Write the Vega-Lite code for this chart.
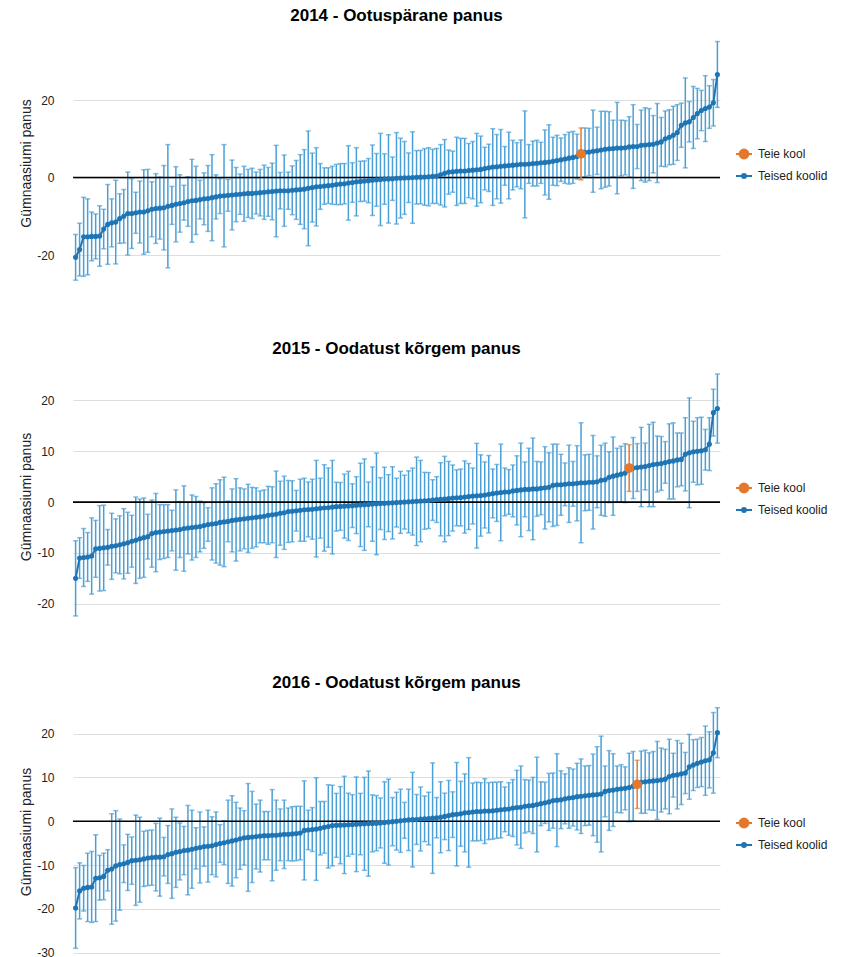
{
  "$schema": "https://vega.github.io/schema/vega-lite/v6.json",
  "background": "white",
  "padding": {"left": 19, "top": 7, "right": 5, "bottom": 0},
  "config": {
    "font": "Liberation Sans",
    "view": {"stroke": null},
    "axis": {"ticks": false, "tickSize": 0, "domain": false, "labelPadding": 19, "labelFontSize": 12, "labelColor": "#222", "labelOverlap": false, "titleFontSize": 14, "titleFontWeight": "normal", "titleColor": "#222", "titlePadding": 3, "gridWidth": 1},
    "title": {"fontSize": 17, "fontWeight": "bold", "color": "#000", "offset": 15, "anchor": "middle", "frame": "group"},
    "legend": {"orient": "none", "legendX": 662, "legendY": 105, "padding": 0, "rowPadding": 4, "symbolSize": 256, "symbolStrokeWidth": 2, "symbolType": "M-1,0H1M-0.45,0A0.45,0.45,0,1,1,0.45,0A0.45,0.45,0,1,1,-0.45,0Z", "labelFontSize": 12, "labelColor": "#222", "labelOffset": 5, "labelFont": "Liberation Sans"}
  },
  "datasets": {
    "d14": [
      {"i":0,"v":-20.6,"e":5.9},{"i":1,"v":-18.6,"e":6.8},{"i":2,"v":-15.3,"e":10.2},{"i":3,"v":-15.3,"e":9.8},{"i":4,"v":-15.2,"e":6.3},
      {"i":5,"v":-15.2,"e":5.8},{"i":6,"v":-15.1,"e":7.8},{"i":7,"v":-13.3,"e":5.1},{"i":8,"v":-12.1,"e":10.3},{"i":9,"v":-11.7,"e":6.2},
      {"i":10,"v":-11.5,"e":10.8},{"i":11,"v":-10.6,"e":6.4},{"i":12,"v":-10.0,"e":6.9},{"i":13,"v":-9.3,"e":10.7},{"i":14,"v":-9.3,"e":9.0},
      {"i":15,"v":-9.1,"e":5.3},{"i":16,"v":-8.9,"e":8.0},{"i":17,"v":-8.9,"e":10.9},{"i":18,"v":-8.6,"e":10.7},{"i":19,"v":-8.2,"e":7.1},
      {"i":20,"v":-8.0,"e":9.0},{"i":21,"v":-7.9,"e":8.0},{"i":22,"v":-7.8,"e":10.9},{"i":23,"v":-7.4,"e":15.9},{"i":24,"v":-7.2,"e":4.9},
      {"i":25,"v":-6.9,"e":9.7},{"i":26,"v":-6.7,"e":7.4},{"i":27,"v":-6.5,"e":4.5},{"i":28,"v":-6.2,"e":6.4},{"i":29,"v":-6.0,"e":10.7},
      {"i":30,"v":-5.9,"e":8.8},{"i":31,"v":-5.7,"e":5.0},{"i":32,"v":-5.5,"e":6.7},{"i":33,"v":-5.4,"e":8.5},{"i":34,"v":-5.2,"e":11.1},
      {"i":35,"v":-5.0,"e":5.7},{"i":36,"v":-4.8,"e":4.5},{"i":37,"v":-4.7,"e":13.2},{"i":38,"v":-4.6,"e":4.1},{"i":39,"v":-4.5,"e":9.0},
      {"i":40,"v":-4.4,"e":7.0},{"i":41,"v":-4.3,"e":5.2},{"i":42,"v":-4.2,"e":7.1},{"i":43,"v":-4.1,"e":6.2},{"i":44,"v":-4.1,"e":6.5},
      {"i":45,"v":-4.0,"e":5.4},{"i":46,"v":-3.9,"e":6.0},{"i":47,"v":-3.8,"e":7.0},{"i":48,"v":-3.7,"e":6.3},{"i":49,"v":-3.6,"e":7.3},
      {"i":50,"v":-3.5,"e":11.8},{"i":51,"v":-3.4,"e":4.7},{"i":52,"v":-3.4,"e":9.2},{"i":53,"v":-3.4,"e":4.8},{"i":54,"v":-3.3,"e":6.3},
      {"i":55,"v":-3.2,"e":7.6},{"i":56,"v":-3.1,"e":9.0},{"i":57,"v":-3.0,"e":10.2},{"i":58,"v":-2.8,"e":14.8},{"i":59,"v":-2.6,"e":8.9},
      {"i":60,"v":-2.4,"e":10.1},{"i":61,"v":-2.3,"e":5.9},{"i":62,"v":-2.2,"e":4.7},{"i":63,"v":-2.1,"e":4.6},{"i":64,"v":-2.0,"e":4.9},
      {"i":65,"v":-1.8,"e":5.2},{"i":66,"v":-1.7,"e":5.3},{"i":67,"v":-1.6,"e":5.2},{"i":68,"v":-1.4,"e":9.6},{"i":69,"v":-1.3,"e":5.1},
      {"i":70,"v":-1.1,"e":8.8},{"i":71,"v":-1.0,"e":5.2},{"i":72,"v":-0.9,"e":5.2},{"i":73,"v":-0.8,"e":5.7},{"i":74,"v":-0.7,"e":9.1},
      {"i":75,"v":-0.6,"e":6.8},{"i":76,"v":-0.5,"e":11.9},{"i":77,"v":-0.4,"e":6.5},{"i":78,"v":-0.35,"e":11.4},{"i":79,"v":-0.3,"e":5.6},
      {"i":80,"v":-0.2,"e":11.8},{"i":81,"v":-0.15,"e":10.3},{"i":82,"v":-0.1,"e":9.4},{"i":83,"v":-0.05,"e":6.4},{"i":84,"v":0.0,"e":11.8},
      {"i":85,"v":0.05,"e":6.9},{"i":86,"v":0.1,"e":6.9},{"i":87,"v":0.15,"e":7.3},{"i":88,"v":0.2,"e":7.5},{"i":89,"v":0.3,"e":7.0},
      {"i":90,"v":0.4,"e":7.1},{"i":91,"v":0.7,"e":7.8},{"i":92,"v":1.1,"e":8.7},{"i":93,"v":1.4,"e":5.7},{"i":94,"v":1.5,"e":5.3},
      {"i":95,"v":1.6,"e":8.8},{"i":96,"v":1.7,"e":8.4},{"i":97,"v":1.7,"e":8.4},{"i":98,"v":1.8,"e":7.0},{"i":99,"v":1.9,"e":7.4},
      {"i":100,"v":2.0,"e":9.4},{"i":101,"v":2.1,"e":8.6},{"i":102,"v":2.3,"e":5.5},{"i":103,"v":2.5,"e":6.1},{"i":104,"v":2.7,"e":9.9},
      {"i":105,"v":2.8,"e":8.3},{"i":106,"v":2.9,"e":9.5},{"i":107,"v":3.0,"e":5.0},{"i":108,"v":3.1,"e":8.6},{"i":109,"v":3.2,"e":6.4},
      {"i":110,"v":3.3,"e":5.7},{"i":111,"v":3.4,"e":6.3},{"i":112,"v":3.4,"e":13.8},{"i":113,"v":3.5,"e":5.0},{"i":114,"v":3.6,"e":5.8},
      {"i":115,"v":3.7,"e":5.9},{"i":116,"v":3.8,"e":5.3},{"i":117,"v":3.9,"e":8.4},{"i":118,"v":4.0,"e":9.6},{"i":119,"v":4.2,"e":6.2},
      {"i":120,"v":4.4,"e":6.5},{"i":121,"v":4.6,"e":5.6},{"i":122,"v":4.8,"e":6.3},{"i":123,"v":5.0,"e":6.7},{"i":124,"v":5.2,"e":6.7},
      {"i":125,"v":5.4,"e":5.8},{"i":127,"v":6.5,"e":6.3},{"i":128,"v":6.6,"e":6.1},{"i":129,"v":6.8,"e":10.6},
      {"i":130,"v":6.9,"e":6.1},{"i":131,"v":7.1,"e":10.0},{"i":132,"v":7.3,"e":9.8},{"i":133,"v":7.4,"e":9.6},{"i":134,"v":7.5,"e":7.3},
      {"i":135,"v":7.6,"e":11.8},{"i":136,"v":7.6,"e":7.2},{"i":137,"v":7.7,"e":7.0},{"i":138,"v":7.9,"e":7.8},{"i":139,"v":8.0,"e":10.8},
      {"i":140,"v":8.0,"e":5.7},{"i":141,"v":8.3,"e":9.1},{"i":142,"v":8.4,"e":9.6},{"i":143,"v":8.5,"e":9.3},{"i":144,"v":8.6,"e":7.4},
      {"i":145,"v":8.9,"e":10.2},{"i":146,"v":9.2,"e":6.3},{"i":147,"v":10.0,"e":7.2},{"i":148,"v":10.4,"e":7.1},{"i":149,"v":10.9,"e":7.5},
      {"i":150,"v":11.6,"e":7.2},{"i":151,"v":13.5,"e":5.7},{"i":152,"v":14.1,"e":11.6},{"i":153,"v":14.4,"e":5.2},{"i":154,"v":15.5,"e":8.0},
      {"i":155,"v":16.5,"e":6.5},{"i":156,"v":17.3,"e":5.2},{"i":157,"v":17.8,"e":8.5},{"i":158,"v":18.2,"e":5.5},{"i":159,"v":19.3,"e":6.0},
      {"i":160,"v":26.6,"e":8.5}
    ],
    "d14o": [{"i":126,"v":6.1,"e":6.7}],
    "d15": [
      {"i":0,"v":-15.0,"e":7.4},{"i":1,"v":-11.0,"e":4.0},{"i":2,"v":-10.9,"e":5.7},{"i":3,"v":-10.8,"e":4.8},{"i":4,"v":-10.6,"e":7.5},
      {"i":5,"v":-9.2,"e":5.6},{"i":6,"v":-9.1,"e":8.4},{"i":7,"v":-9.0,"e":8.4},{"i":8,"v":-8.9,"e":3.5},{"i":9,"v":-8.7,"e":6.5},
      {"i":10,"v":-8.6,"e":5.3},{"i":11,"v":-8.4,"e":5.7},{"i":12,"v":-8.2,"e":6.9},{"i":13,"v":-8.0,"e":6.0},{"i":14,"v":-7.7,"e":5.1},
      {"i":15,"v":-7.5,"e":8.5},{"i":16,"v":-7.2,"e":7.8},{"i":17,"v":-7.0,"e":7.8},{"i":18,"v":-6.8,"e":4.4},{"i":19,"v":-6.2,"e":6.6},
      {"i":20,"v":-6.0,"e":7.7},{"i":21,"v":-5.9,"e":5.4},{"i":22,"v":-5.8,"e":5.3},{"i":23,"v":-5.7,"e":5.2},{"i":24,"v":-5.6,"e":4.0},
      {"i":25,"v":-5.5,"e":7.9},{"i":26,"v":-5.4,"e":5.5},{"i":27,"v":-5.2,"e":8.4},{"i":28,"v":-5.1,"e":5.1},{"i":29,"v":-5.0,"e":6.4},
      {"i":30,"v":-4.9,"e":6.0},{"i":31,"v":-4.8,"e":5.0},{"i":32,"v":-4.6,"e":4.5},{"i":33,"v":-4.4,"e":3.3},{"i":34,"v":-4.3,"e":7.1},
      {"i":35,"v":-4.2,"e":7.8},{"i":36,"v":-4.0,"e":8.4},{"i":37,"v":-3.9,"e":8.8},{"i":38,"v":-3.8,"e":4.0},{"i":39,"v":-3.6,"e":6.2},
      {"i":40,"v":-3.5,"e":8.1},{"i":41,"v":-3.4,"e":6.2},{"i":42,"v":-3.3,"e":5.9},{"i":43,"v":-3.2,"e":6.7},{"i":44,"v":-3.1,"e":6.0},
      {"i":45,"v":-3.0,"e":5.8},{"i":46,"v":-2.9,"e":5.1},{"i":47,"v":-2.8,"e":5.2},{"i":48,"v":-2.6,"e":5.7},{"i":49,"v":-2.5,"e":5.5},
      {"i":50,"v":-2.4,"e":8.5},{"i":51,"v":-2.2,"e":6.3},{"i":52,"v":-2.1,"e":7.2},{"i":53,"v":-1.85,"e":6.1},{"i":54,"v":-1.8,"e":6.0},
      {"i":55,"v":-1.7,"e":4.0},{"i":56,"v":-1.6,"e":6.1},{"i":57,"v":-1.5,"e":6.2},{"i":58,"v":-1.45,"e":5.4},{"i":59,"v":-1.4,"e":5.9},
      {"i":60,"v":-1.3,"e":9.5},{"i":61,"v":-1.2,"e":5.9},{"i":62,"v":-1.15,"e":8.5},{"i":63,"v":-1.1,"e":7.8},{"i":64,"v":-1.0,"e":9.2},
      {"i":65,"v":-0.9,"e":4.8},{"i":66,"v":-0.85,"e":4.7},{"i":67,"v":-0.8,"e":6.3},{"i":68,"v":-0.75,"e":6.8},{"i":69,"v":-0.7,"e":4.3},
      {"i":70,"v":-0.6,"e":5.6},{"i":71,"v":-0.55,"e":8.2},{"i":72,"v":-0.5,"e":9.0},{"i":73,"v":-0.45,"e":4.4},{"i":74,"v":-0.4,"e":7.3},
      {"i":75,"v":-0.35,"e":10.0},{"i":76,"v":-0.3,"e":5.1},{"i":77,"v":-0.25,"e":7.1},{"i":78,"v":-0.2,"e":5.6},{"i":79,"v":-0.15,"e":7.1},
      {"i":80,"v":-0.1,"e":4.8},{"i":81,"v":-0.05,"e":6.1},{"i":82,"v":0.0,"e":5.3},{"i":83,"v":0.05,"e":6.1},{"i":84,"v":0.1,"e":6.6},
      {"i":85,"v":0.15,"e":8.7},{"i":86,"v":0.2,"e":8.0},{"i":87,"v":0.25,"e":5.6},{"i":88,"v":0.3,"e":5.5},{"i":89,"v":0.4,"e":4.0},
      {"i":90,"v":0.5,"e":4.5},{"i":91,"v":0.55,"e":7.2},{"i":92,"v":0.6,"e":8.4},{"i":93,"v":0.7,"e":7.3},{"i":94,"v":0.8,"e":6.5},
      {"i":95,"v":0.85,"e":5.5},{"i":96,"v":0.9,"e":5.6},{"i":97,"v":1.0,"e":7.1},{"i":98,"v":1.1,"e":6.5},{"i":99,"v":1.2,"e":5.5},
      {"i":100,"v":1.25,"e":10.3},{"i":101,"v":1.3,"e":8.0},{"i":102,"v":1.4,"e":6.5},{"i":103,"v":1.55,"e":7.6},{"i":104,"v":1.7,"e":4.8},
      {"i":105,"v":1.8,"e":5.6},{"i":106,"v":1.9,"e":9.5},{"i":107,"v":2.0,"e":4.7},{"i":108,"v":2.0,"e":4.4},{"i":109,"v":2.2,"e":5.1},
      {"i":110,"v":2.3,"e":6.8},{"i":111,"v":2.4,"e":9.2},{"i":112,"v":2.5,"e":5.4},{"i":113,"v":2.5,"e":8.1},{"i":114,"v":2.6,"e":10.0},
      {"i":115,"v":2.6,"e":5.4},{"i":116,"v":2.7,"e":5.2},{"i":117,"v":2.8,"e":8.1},{"i":118,"v":2.9,"e":6.8},{"i":119,"v":3.3,"e":8.1},
      {"i":120,"v":3.4,"e":8.0},{"i":121,"v":3.4,"e":6.0},{"i":122,"v":3.5,"e":4.2},{"i":123,"v":3.6,"e":7.6},{"i":124,"v":3.6,"e":4.4},
      {"i":125,"v":3.7,"e":7.4},{"i":126,"v":3.8,"e":11.8},{"i":127,"v":3.8,"e":5.5},{"i":128,"v":3.9,"e":5.5},{"i":129,"v":3.9,"e":9.2},
      {"i":130,"v":4.0,"e":5.1},{"i":131,"v":4.3,"e":6.9},{"i":132,"v":4.4,"e":7.2},{"i":133,"v":4.9,"e":5.0},{"i":134,"v":5.1,"e":7.7},
      {"i":135,"v":5.3,"e":5.3},{"i":136,"v":5.5,"e":5.5},{"i":137,"v":5.7,"e":5.8},{"i":139,"v":6.7,"e":6.0},
      {"i":140,"v":6.8,"e":4.7},{"i":141,"v":6.9,"e":7.8},{"i":142,"v":7.0,"e":4.6},{"i":143,"v":7.2,"e":8.1},{"i":144,"v":7.4,"e":8.3},
      {"i":145,"v":7.5,"e":5.5},{"i":146,"v":7.6,"e":5.3},{"i":147,"v":7.8,"e":4.1},{"i":148,"v":8.0,"e":7.4},{"i":149,"v":8.1,"e":7.5},
      {"i":150,"v":8.3,"e":5.3},{"i":151,"v":8.4,"e":5.2},{"i":152,"v":9.4,"e":7.2},{"i":153,"v":9.7,"e":10.8},{"i":154,"v":9.9,"e":6.0},
      {"i":155,"v":10.0,"e":6.6},{"i":156,"v":10.1,"e":6.6},{"i":157,"v":10.3,"e":4.0},{"i":158,"v":11.4,"e":5.2},{"i":159,"v":17.6,"e":4.6},
      {"i":160,"v":18.4,"e":6.8}
    ],
    "d15o": [{"i":138,"v":6.7,"e":4.6}],
    "d16": [
      {"i":0,"v":-19.8,"e":9.2},{"i":1,"v":-15.9,"e":6.4},{"i":2,"v":-15.3,"e":5.2},{"i":3,"v":-15.1,"e":7.8},{"i":4,"v":-15.0,"e":8.1},
      {"i":5,"v":-13.0,"e":9.9},{"i":6,"v":-12.9,"e":5.1},{"i":7,"v":-12.6,"e":5.3},{"i":8,"v":-11.2,"e":4.7},{"i":9,"v":-10.9,"e":12.6},
      {"i":10,"v":-10.2,"e":12.6},{"i":11,"v":-9.9,"e":10.4},{"i":12,"v":-9.7,"e":4.3},{"i":13,"v":-9.4,"e":6.4},{"i":14,"v":-9.0,"e":5.4},
      {"i":15,"v":-8.9,"e":10.3},{"i":16,"v":-8.8,"e":9.7},{"i":17,"v":-8.6,"e":6.3},{"i":18,"v":-8.4,"e":6.3},{"i":19,"v":-8.3,"e":6.3},
      {"i":20,"v":-8.2,"e":7.7},{"i":21,"v":-8.2,"e":8.9},{"i":22,"v":-8.1,"e":4.4},{"i":23,"v":-7.6,"e":6.6},{"i":24,"v":-7.4,"e":10.2},
      {"i":25,"v":-7.1,"e":8.0},{"i":26,"v":-6.9,"e":6.5},{"i":27,"v":-6.7,"e":5.5},{"i":28,"v":-6.6,"e":10.2},{"i":29,"v":-6.4,"e":8.9},
      {"i":30,"v":-6.2,"e":4.7},{"i":31,"v":-6.0,"e":8.1},{"i":32,"v":-5.8,"e":4.5},{"i":33,"v":-5.7,"e":8.2},{"i":34,"v":-5.6,"e":6.6},
      {"i":35,"v":-5.3,"e":7.4},{"i":36,"v":-5.1,"e":4.3},{"i":37,"v":-4.9,"e":5.0},{"i":38,"v":-4.7,"e":9.5},{"i":39,"v":-4.5,"e":10.3},
      {"i":40,"v":-4.3,"e":8.6},{"i":41,"v":-4.0,"e":7.0},{"i":42,"v":-3.8,"e":6.2},{"i":43,"v":-3.7,"e":12.3},{"i":44,"v":-3.6,"e":10.4},
      {"i":45,"v":-3.5,"e":7.4},{"i":46,"v":-3.4,"e":8.2},{"i":47,"v":-3.3,"e":5.5},{"i":48,"v":-3.3,"e":5.5},{"i":49,"v":-3.2,"e":10.4},
      {"i":50,"v":-3.2,"e":8.0},{"i":51,"v":-3.1,"e":5.9},{"i":52,"v":-3.0,"e":7.8},{"i":53,"v":-3.0,"e":6.0},{"i":54,"v":-2.9,"e":6.2},
      {"i":55,"v":-2.8,"e":6.2},{"i":56,"v":-2.7,"e":6.1},{"i":57,"v":-2.1,"e":11.3},{"i":58,"v":-2.0,"e":4.5},{"i":59,"v":-1.9,"e":5.0},
      {"i":60,"v":-1.8,"e":11.7},{"i":61,"v":-1.6,"e":6.1},{"i":62,"v":-1.4,"e":5.9},{"i":63,"v":-1.2,"e":9.5},{"i":64,"v":-1.0,"e":9.2},
      {"i":65,"v":-0.95,"e":7.3},{"i":66,"v":-0.9,"e":8.8},{"i":67,"v":-0.85,"e":11.1},{"i":68,"v":-0.8,"e":7.2},{"i":69,"v":-0.75,"e":6.8},
      {"i":70,"v":-0.7,"e":10.8},{"i":71,"v":-0.65,"e":7.0},{"i":72,"v":-0.6,"e":10.6},{"i":73,"v":-0.55,"e":12.0},{"i":74,"v":-0.5,"e":6.5},
      {"i":75,"v":-0.45,"e":6.3},{"i":76,"v":-0.4,"e":5.7},{"i":77,"v":-0.3,"e":9.3},{"i":78,"v":-0.2,"e":9.8},{"i":79,"v":-0.1,"e":5.5},
      {"i":80,"v":0.0,"e":6.6},{"i":81,"v":0.1,"e":7.2},{"i":82,"v":0.2,"e":4.1},{"i":83,"v":0.3,"e":7.0},{"i":84,"v":0.35,"e":10.8},
      {"i":85,"v":0.4,"e":5.7},{"i":86,"v":0.5,"e":7.3},{"i":87,"v":0.55,"e":5.2},{"i":88,"v":0.6,"e":6.0},{"i":89,"v":0.7,"e":12.6},
      {"i":90,"v":0.8,"e":4.6},{"i":91,"v":0.9,"e":8.1},{"i":92,"v":1.1,"e":5.3},{"i":93,"v":1.3,"e":8.0},{"i":94,"v":1.5,"e":5.2},
      {"i":95,"v":1.6,"e":11.8},{"i":96,"v":1.7,"e":7.4},{"i":97,"v":1.9,"e":8.9},{"i":98,"v":2.0,"e":12.5},{"i":99,"v":2.1,"e":6.6},
      {"i":100,"v":2.2,"e":6.7},{"i":101,"v":2.2,"e":6.6},{"i":102,"v":2.3,"e":7.4},{"i":103,"v":2.3,"e":6.5},{"i":104,"v":2.4,"e":6.5},
      {"i":105,"v":2.5,"e":6.4},{"i":106,"v":2.6,"e":6.4},{"i":107,"v":2.7,"e":5.1},{"i":108,"v":2.8,"e":6.0},{"i":109,"v":3.0,"e":6.5},
      {"i":110,"v":3.1,"e":8.5},{"i":111,"v":3.2,"e":9.4},{"i":112,"v":3.4,"e":6.1},{"i":113,"v":3.5,"e":5.9},{"i":114,"v":3.6,"e":6.4},
      {"i":115,"v":3.8,"e":10.8},{"i":116,"v":4.0,"e":5.0},{"i":117,"v":4.2,"e":4.7},{"i":118,"v":4.4,"e":6.5},{"i":119,"v":4.7,"e":6.3},
      {"i":120,"v":4.8,"e":10.6},{"i":121,"v":4.9,"e":6.6},{"i":122,"v":5.1,"e":5.7},{"i":123,"v":5.3,"e":6.9},{"i":124,"v":5.4,"e":6.5},
      {"i":125,"v":5.6,"e":7.6},{"i":126,"v":5.7,"e":8.5},{"i":127,"v":5.8,"e":6.8},{"i":128,"v":5.9,"e":6.8},{"i":129,"v":6.0,"e":9.3},
      {"i":130,"v":6.1,"e":10.9},{"i":131,"v":6.2,"e":13.2},{"i":132,"v":6.8,"e":5.8},{"i":133,"v":7.0,"e":9.1},{"i":134,"v":7.1,"e":8.3},
      {"i":135,"v":7.3,"e":5.3},{"i":136,"v":7.4,"e":5.5},{"i":137,"v":7.5,"e":4.9},{"i":138,"v":7.7,"e":7.8},{"i":139,"v":8.0,"e":7.9},
      {"i":141,"v":8.9,"e":7.1},{"i":142,"v":9.0,"e":7.2},{"i":143,"v":9.1,"e":6.5},{"i":144,"v":9.2,"e":6.7},
      {"i":145,"v":9.3,"e":8.9},{"i":146,"v":9.4,"e":7.3},{"i":147,"v":9.6,"e":6.8},{"i":148,"v":10.2,"e":8.5},{"i":149,"v":10.5,"e":5.0},
      {"i":150,"v":10.6,"e":7.8},{"i":151,"v":10.8,"e":7.0},{"i":152,"v":11.0,"e":4.7},{"i":153,"v":12.4,"e":7.4},{"i":154,"v":12.8,"e":5.8},
      {"i":155,"v":13.2,"e":5.5},{"i":156,"v":13.5,"e":5.6},{"i":157,"v":13.8,"e":7.9},{"i":158,"v":14.0,"e":6.4},{"i":159,"v":15.6,"e":9.2},
      {"i":160,"v":20.2,"e":5.7}
    ],
    "d16o": [{"i":140,"v":8.4,"e":5.5}]
  },
  "resolve": {"scale": {"color": "independent"}, "legend": {"color": "independent"}},
  "spacing": 54,
  "vconcat": [
    {
      "width": 647, "height": 246,
      "title": "2014 - Ootuspärane panus",
      "data": {"name": "d14"},
      "resolve": {"axis": {"y": "independent"}},
      "encoding": {
        "x": {"field": "i", "type": "quantitative", "scale": {"domain": [-0.65, 160.65], "nice": false, "zero": false}, "axis": null},
        "y": {"field": "v", "type": "quantitative", "scale": {"domain": [-28, 35.5], "nice": false, "zero": false}, "axis": null},
        "color": {"datum": "Teised koolid", "type": "nominal", "title": null,
                  "scale": {"domain": ["Teie kool", "Teised koolid"], "range": ["#e5782a", "#1f75b4"]},
                  "legend": {"title": null, "encode": {"symbols": {"update": {
                    "shape": {"signal": "datum.value === 'Teie kool' ? 'M-1,0H1M-0.56,0A0.56,0.56,0,1,1,0.56,0A0.56,0.56,0,1,1,-0.56,0Z' : 'M-1,0H1M-0.24,0A0.24,0.24,0,1,1,0.24,0A0.24,0.24,0,1,1,-0.24,0Z'"},
                    "fill": {"signal": "datum.value === 'Teie kool' ? '#e5782a' : '#1f75b4'"},
                    "stroke": {"signal": "datum.value === 'Teie kool' ? '#e5782a' : '#1f75b4'"},
                    "strokeWidth": {"value": 2}, "opacity": {"value": 1}, "size": {"value": 256}}}}}}
      },
      "layer": [
        {"mark": {"type": "errorbar", "ticks": true, "size": 5, "thickness": 1.5},
         "encoding": {"y": {"field": "v", "type": "quantitative", "title": "Gümnaasiumi panus", "scale": {"domain": [-28, 35.5], "nice": false, "zero": false},
                            "axis": {"orient": "left", "values": [-20, 0, 20], "labelExpr": "'' + datum.value", "gridColor": "#dedede"}},
                      "yError": {"field": "e"}, "color": {"value": "#4a9fd6"}}},
        {"data": {"values": [{"v": 0}]}, "mark": {"type": "rule", "strokeWidth": 1.6},
         "encoding": {"x": null, "y": {"field": "v", "type": "quantitative", "scale": {"domain": [-28, 35.5], "nice": false, "zero": false},
                            "axis": {"orient": "left", "values": [-10, 10, 30], "labels": false, "title": null, "gridColor": "#f2f2f2"}},
                      "color": {"value": "#000"}}},
        {"mark": {"type": "line", "strokeWidth": 2}},
        {"mark": {"type": "point", "filled": true, "size": 26, "opacity": 1}},
        {"data": {"name": "d14o"}, "mark": {"type": "errorbar", "ticks": true, "size": 5, "thickness": 1.5},
         "encoding": {"yError": {"field": "e"}, "color": {"datum": "Teie kool", "type": "nominal", "title": null}}},
        {"data": {"name": "d14o"}, "mark": {"type": "point", "filled": true, "size": 95, "opacity": 1},
         "encoding": {"color": {"datum": "Teie kool", "type": "nominal", "title": null}}}
      ]
    },
    {
      "width": 647, "height": 245,
      "title": "2015 - Oodatust kõrgem panus",
      "data": {"name": "d15"},
      "resolve": {"axis": {"y": "independent"}},
      "encoding": {
        "x": {"field": "i", "type": "quantitative", "scale": {"domain": [-0.65, 160.65], "nice": false, "zero": false}, "axis": null},
        "y": {"field": "v", "type": "quantitative", "scale": {"domain": [-23.0, 25.2], "nice": false, "zero": false}, "axis": null},
        "color": {"datum": "Teised koolid", "type": "nominal", "title": null,
                  "scale": {"domain": ["Teie kool", "Teised koolid"], "range": ["#e5782a", "#1f75b4"]},
                  "legend": {"title": null, "encode": {"symbols": {"update": {
                    "shape": {"signal": "datum.value === 'Teie kool' ? 'M-1,0H1M-0.56,0A0.56,0.56,0,1,1,0.56,0A0.56,0.56,0,1,1,-0.56,0Z' : 'M-1,0H1M-0.24,0A0.24,0.24,0,1,1,0.24,0A0.24,0.24,0,1,1,-0.24,0Z'"},
                    "fill": {"signal": "datum.value === 'Teie kool' ? '#e5782a' : '#1f75b4'"},
                    "stroke": {"signal": "datum.value === 'Teie kool' ? '#e5782a' : '#1f75b4'"},
                    "strokeWidth": {"value": 2}, "opacity": {"value": 1}, "size": {"value": 256}}}}}}
      },
      "layer": [
        {"mark": {"type": "errorbar", "ticks": true, "size": 5, "thickness": 1.5},
         "encoding": {"y": {"field": "v", "type": "quantitative", "title": "Gümnaasiumi panus", "scale": {"domain": [-23.0, 25.2], "nice": false, "zero": false},
                            "axis": {"orient": "left", "values": [-20, -10, 0, 10, 20], "labelExpr": "'' + datum.value", "gridColor": "#dedede"}},
                      "yError": {"field": "e"}, "color": {"value": "#4a9fd6"}}},
        {"data": {"values": [{"v": 0}]}, "mark": {"type": "rule", "strokeWidth": 1.6},
         "encoding": {"x": null, "y": {"field": "v", "type": "quantitative", "scale": {"domain": [-23.0, 25.2], "nice": false, "zero": false},
                            "axis": {"orient": "left", "values": [-15, -5, 5, 15, 25], "labels": false, "title": null, "gridColor": "#f2f2f2"}},
                      "color": {"value": "#000"}}},
        {"mark": {"type": "line", "strokeWidth": 2}},
        {"mark": {"type": "point", "filled": true, "size": 26, "opacity": 1}},
        {"data": {"name": "d15o"}, "mark": {"type": "errorbar", "ticks": true, "size": 5, "thickness": 1.5},
         "encoding": {"yError": {"field": "e"}, "color": {"datum": "Teie kool", "type": "nominal", "title": null}}},
        {"data": {"name": "d15o"}, "mark": {"type": "point", "filled": true, "size": 95, "opacity": 1},
         "encoding": {"color": {"datum": "Teie kool", "type": "nominal", "title": null}}}
      ]
    },
    {
      "width": 647, "height": 245,
      "title": "2016 - Oodatust kõrgem panus",
      "data": {"name": "d16"},
      "resolve": {"axis": {"y": "independent"}},
      "encoding": {
        "x": {"field": "i", "type": "quantitative", "scale": {"domain": [-0.65, 160.65], "nice": false, "zero": false}, "axis": null},
        "y": {"field": "v", "type": "quantitative", "scale": {"domain": [-30.3, 25.6], "nice": false, "zero": false}, "axis": null},
        "color": {"datum": "Teised koolid", "type": "nominal", "title": null,
                  "scale": {"domain": ["Teie kool", "Teised koolid"], "range": ["#e5782a", "#1f75b4"]},
                  "legend": {"title": null, "encode": {"symbols": {"update": {
                    "shape": {"signal": "datum.value === 'Teie kool' ? 'M-1,0H1M-0.56,0A0.56,0.56,0,1,1,0.56,0A0.56,0.56,0,1,1,-0.56,0Z' : 'M-1,0H1M-0.24,0A0.24,0.24,0,1,1,0.24,0A0.24,0.24,0,1,1,-0.24,0Z'"},
                    "fill": {"signal": "datum.value === 'Teie kool' ? '#e5782a' : '#1f75b4'"},
                    "stroke": {"signal": "datum.value === 'Teie kool' ? '#e5782a' : '#1f75b4'"},
                    "strokeWidth": {"value": 2}, "opacity": {"value": 1}, "size": {"value": 256}}}}}}
      },
      "layer": [
        {"mark": {"type": "errorbar", "ticks": true, "size": 5, "thickness": 1.5},
         "encoding": {"y": {"field": "v", "type": "quantitative", "title": "Gümnaasiumi panus", "scale": {"domain": [-30.3, 25.6], "nice": false, "zero": false},
                            "axis": {"orient": "left", "values": [-30, -20, -10, 0, 10, 20], "labelExpr": "'' + datum.value", "gridColor": "#dedede"}},
                      "yError": {"field": "e"}, "color": {"value": "#4a9fd6"}}},
        {"data": {"values": [{"v": 0}]}, "mark": {"type": "rule", "strokeWidth": 1.6},
         "encoding": {"x": null, "y": {"field": "v", "type": "quantitative", "scale": {"domain": [-30.3, 25.6], "nice": false, "zero": false},
                            "axis": {"orient": "left", "values": [-25, -15, -5, 5, 15, 25], "labels": false, "title": null, "gridColor": "#f2f2f2"}},
                      "color": {"value": "#000"}}},
        {"mark": {"type": "line", "strokeWidth": 2}},
        {"mark": {"type": "point", "filled": true, "size": 26, "opacity": 1}},
        {"data": {"name": "d16o"}, "mark": {"type": "errorbar", "ticks": true, "size": 5, "thickness": 1.5},
         "encoding": {"yError": {"field": "e"}, "color": {"datum": "Teie kool", "type": "nominal", "title": null}}},
        {"data": {"name": "d16o"}, "mark": {"type": "point", "filled": true, "size": 95, "opacity": 1},
         "encoding": {"color": {"datum": "Teie kool", "type": "nominal", "title": null}}}
      ]
    }
  ]
}
